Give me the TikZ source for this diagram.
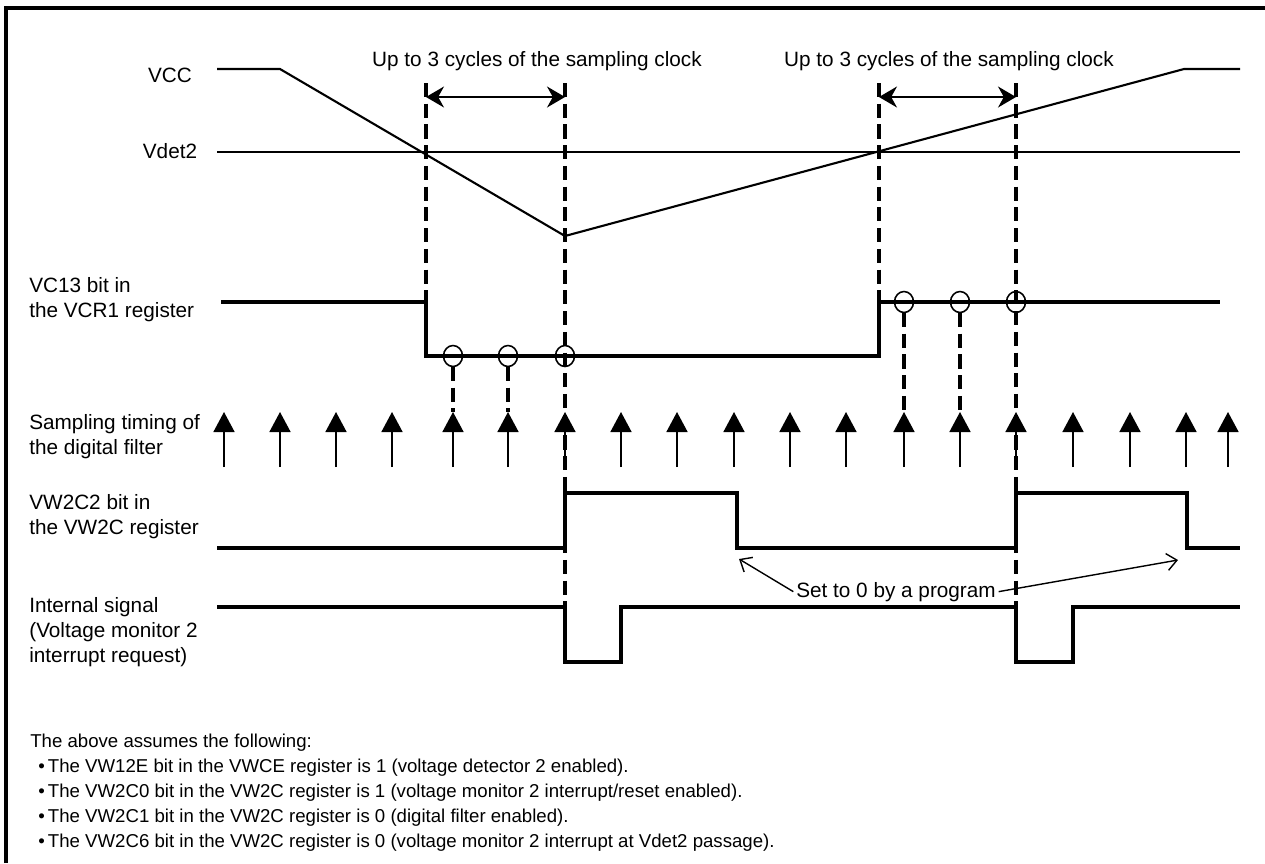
\documentclass[tikz,border=0pt]{standalone}
\usepackage{fontspec}
\setmainfont{Liberation Sans}
\usetikzlibrary{arrows.meta}

\begin{document}
\begin{tikzpicture}[x=0.02cm, y=-0.02cm, font=\fontsize{11.8}{14.2}\selectfont]
\tikzstyle{tx}=[draw=none, fill=none, inner sep=0pt]
\tikzstyle{lbl}=[tx, anchor=west, align=left]
\tikzstyle{small}=[font=\fontsize{10.6}{12}\selectfont]
\tikzstyle{sig}=[line width=2pt]
\tikzstyle{dsh}=[line width=1.8pt, dash pattern=on 8pt off 3.8pt]
\tikzstyle{smp}=[line width=0.9pt, -{Triangle[length=0.4cm, width=0.42cm]}]
\tikzstyle{cyc}=[line width=0.9pt, {Stealth[length=0.36cm, width=0.42cm]}-{Stealth[length=0.36cm, width=0.42cm]}]
\tikzstyle{note}=[line width=0.8pt, -{Straight Barb[length=0.2cm, width=0.34cm]}]
\tikzstyle{ring}=[line width=0.9pt]

\useasboundingbox (0,0) rectangle (1265,863);
\draw[line width=2.2pt] (6,863) -- (6,8) -- (1265,8);

% signal names
\node[tx] (VCC) at (170,75) {VCC};
\node[tx] (VD) at (170,151) {Vdet2};
\node[lbl] (L1) at (29,300) {VC13 bit in\\the VCR1 register};
\node[lbl] (L2) at (29,437) {Sampling timing of\\the digital filter};
\node[lbl] (L3) at (29,517) {VW2C2 bit in\\the VW2C register};
\node[lbl] (L4) at (29,632) {Internal signal\\(Voltage monitor 2\\interrupt request)};

% supply and detection level
\draw[line width=1.2pt] (217,69) -- (280,69) -- (565,236) -- (1184,69) -- (1240,69);
\draw[line width=1pt] (217,152) -- (1240,152);

% waveforms
\draw[sig] (221,302) -- (426,302) -- (426,356) -- (879,356) -- (879,302) -- (1220,302);
\draw[sig] (217,548) -- (565,548) -- (565,493) -- (737,493) -- (737,548) -- (1016,548)
  -- (1016,493) -- (1187,493) -- (1187,548) -- (1240,548);
\draw[sig] (217,607) -- (565,607) -- (565,662) -- (621,662) -- (621,607) -- (1016,607)
  -- (1016,662) -- (1073,662) -- (1073,607) -- (1240,607);

% filter window
\draw[dsh] (426,83) -- (426,302);
\draw[dsh] (565,83) -- (565,607);
\draw[dsh] (879,83) -- (879,302);
\draw[dsh] (1016,83) -- (1016,607);
\draw[cyc] (426,97) -- (565,97);
\draw[cyc] (879,97) -- (1016,97);
\node[tx, anchor=base] (U1) at (537,66) {Up to 3 cycles of the sampling clock};
\node[tx, anchor=base] (U2) at (949,66) {Up to 3 cycles of the sampling clock};

% sampling clock
\foreach \x in {224,280,336,392,453,508,565,621,677,734,790,846,904,960,1016,1073,1130,1186,1228}
  \draw[smp] (\x,467) -- (\x,412);
\foreach \x in {453,508,565}
  \draw[ring] (\x,356) ellipse [x radius=0.19cm, y radius=0.21cm];
\foreach \x in {904,960,1016}
  \draw[ring] (\x,302) ellipse [x radius=0.19cm, y radius=0.21cm];
\foreach \x in {453,508}
  \draw[dsh] (\x,367) -- (\x,412);
\foreach \x in {904,960}
  \draw[dsh] (\x,313) -- (\x,412);

% cleared by software
\node[tx, inner sep=1.5pt, anchor=base] (S0) at (896,597) {Set to 0 by a program};
\coordinate (N1) at (739,559);
\coordinate (N2) at (1178,560);
\draw[note] (S0.west) -- (N1);
\draw[note] (S0.east) -- (N2);

% conditions
\node[lbl, small] (A0) at (30,743) {The above assumes the following:};
\node[lbl, small] (B1) at (38,768) {\textbullet\,The VW12E bit in the VWCE register is 1 (voltage detector 2 enabled).};
\node[lbl, small] (B2) at (38,793) {\textbullet\,The VW2C0 bit in the VW2C register is 1 (voltage monitor 2 interrupt/reset enabled).};
\node[lbl, small] (B3) at (38,818) {\textbullet\,The VW2C1 bit in the VW2C register is 0 (digital filter enabled).};
\node[lbl, small] (B4) at (38,843) {\textbullet\,The VW2C6 bit in the VW2C register is 0 (voltage monitor 2 interrupt at Vdet2 passage).};
\end{tikzpicture}
\end{document}
